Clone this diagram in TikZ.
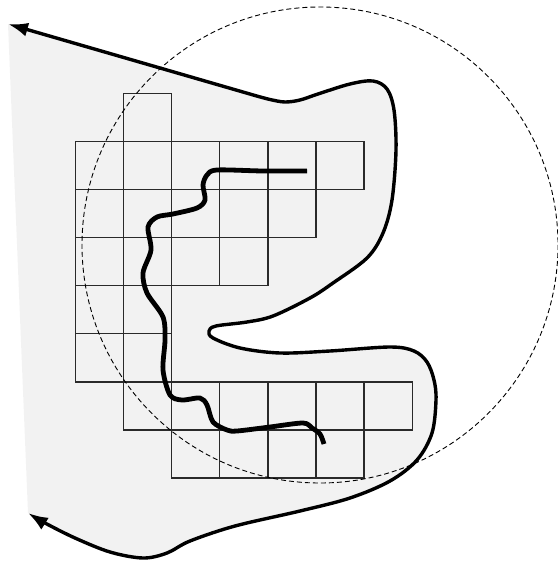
\documentclass[tikz,border=0pt]{standalone}
\usetikzlibrary{arrows.meta}
\definecolor{regiongray}{HTML}{F2F2F2}
\definecolor{gridcol}{HTML}{2A2A2A}
\tikzset{
  gridline/.style={draw=gridcol, line width=1.35pt},
  outline/.style={draw=black, line width=3.4pt, line join=round,
    {Latex[length=20pt,width=14pt]}-{Latex[length=20pt,width=14pt]}},
  wiggle/.style={draw=black, line width=4.8pt, line join=round},
  circ/.style={draw=black, line width=0.9pt, dash pattern=on 5pt off 3pt}
}
\begin{document}
\begin{tikzpicture}[x=1pt,y=-1pt]
\useasboundingbox (0,0) rectangle (557,561);
% gray region
\fill[regiongray] plot[smooth, tension=0.55] coordinates {
 (28,513) (45,523) (75,538) (110,552) (143,558) (167,553) (190,541) (235,526)
 (300,511) (350,498) (390,481) (417,460) (432,433) (436,400) (434,380) (427,362)
 (414,351) (390,347) (330,351) (280,353) (240,348) (213,338) (209,331) (216,326)
 (247,322) (273,316) (310,298) (333,283) (367,258) (383,233) (392,200) (396,150)
 (394,110) (387,89) (373,81) (350,84) (318,94) (300,100) (285,102) (270,99.5) (255,95.5)}
 -- (8,24) -- cycle;
% grid cells
\foreach \r/\a/\b in {0/1/1,1/0/5,2/0/4,3/0/3,4/0/1,5/0/1,6/1/6,7/2/5}{
  \foreach \c in {\a,...,\b}{
    \draw[gridline] ({75.5+48.1*\c},{93.3+48.1*\r}) rectangle +(48.1,48.1);
  }
}
% dashed circle
\draw[circ] (320,245) circle[radius=238];
% outline with arrows
\draw[outline] plot[smooth, tension=0.55] coordinates {
 (28,513) (45,523) (75,538) (110,552) (143,558) (167,553) (190,541) (235,526)
 (300,511) (350,498) (390,481) (417,460) (432,433) (436,400) (434,380) (427,362)
 (414,351) (390,347) (330,351) (280,353) (240,348) (213,338) (209,331) (216,326)
 (247,322) (273,316) (310,298) (333,283) (367,258) (383,233) (392,200) (396,150)
 (394,110) (387,89) (373,81) (350,84) (318,94) (300,100) (285,102) (270,99.5) (255,95.5)}
 -- (8,24);
% inner wiggly path
\draw[wiggle] plot[smooth, tension=0.5] coordinates {
 (307,171) (263,171) (217,170) (207,175) (203,185) (205,200) (197,208) (173,214)
 (157,217) (148,227) (151,250) (143,273) (147,293) (163,317) (165,340) (163,370)
 (170,395) (182,400) (200,398) (207,405) (213,422) (227,430) (237,431) (270,427)
 (303,423) (312,428) (320,434) (324,444)};
\end{tikzpicture}
\end{document}
